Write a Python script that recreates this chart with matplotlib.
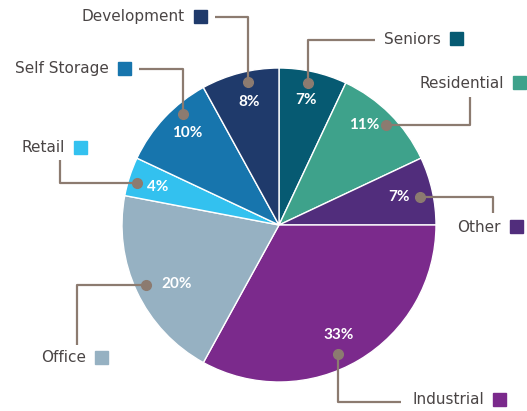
import matplotlib.pyplot as plt
from matplotlib.patches import Rectangle

# portfolio share by sector, clockwise from the top
sectors = ['Seniors', 'Residential', 'Other', 'Industrial', 'Office', 'Retail', 'Self Storage', 'Development']
shares = [7, 11, 7, 33, 20, 4, 10, 8]
colors = ['#065a72', '#3ea28b', '#512d7c', '#7b2a8c', '#96b1c2', '#33c1ef', '#1775ad', '#1f3a6b']

W, H = 527, 411
cx, cy, R = 279, 225, 157

# layout in pixel coords (y from top): percent label, name text end, callout path
pct_pos = [(306, 100), (364, 125), (399, 197), (339, 335), (177, 284), (158, 187), (187, 133), (249, 102)]
name_pos = [(441, 39), (504, 83), (501, 227), (484, 399), (86, 357), (65, 148), (109, 69), (185, 17)]
paths = [
    [(375, 40), (308, 40), (308, 83)],
    [(470, 97), (470, 125), (386, 125)],
    [(493, 213), (493, 197), (420, 197)],
    [(401, 402), (338, 402), (338, 354)],
    [(77, 345), (77, 285), (146, 285)],
    [(60, 160), (60, 183), (137, 183)],
    [(139, 69), (183, 69), (183, 114)],
    [(215, 17), (248, 17), (248, 82)],
]

line_col = '#8c7b70'
text_col = '#4a4545'


def fy(y):
    return H - y


fig = plt.figure(figsize=(W / 100, H / 100), dpi=100)
ax = fig.add_axes([0, 0, 1, 1])

ax.pie(shares, colors=colors, startangle=90, counterclock=False,
       center=(cx, fy(cy)), radius=R, frame=True,
       wedgeprops=dict(edgecolor='white', linewidth=1))

for i, name in enumerate(sectors):
    px, py = pct_pos[i]
    ax.text(px, fy(py), f"{shares[i]}%", color='white', fontsize=11,
            fontweight='bold', family='Lato', ha='center', va='center')

    tx, ty = name_pos[i]
    ax.text(tx, fy(ty), name, color=text_col, fontsize=11, family='DejaVu Sans',
            ha='right', va='center')
    ax.add_patch(Rectangle((tx + 9, fy(ty) - 6.5), 13, 13, color=colors[i]))

    xs = [p[0] for p in paths[i]]
    ys = [fy(p[1]) for p in paths[i]]
    ax.plot(xs, ys, color=line_col, lw=1.6, solid_capstyle='butt')
    ax.plot(xs[-1], ys[-1], 'o', color=line_col, ms=7)

ax.set_xlim(0, W)
ax.set_ylim(0, H)
ax.axis('off')

fig.savefig('out.png', dpi=100)
